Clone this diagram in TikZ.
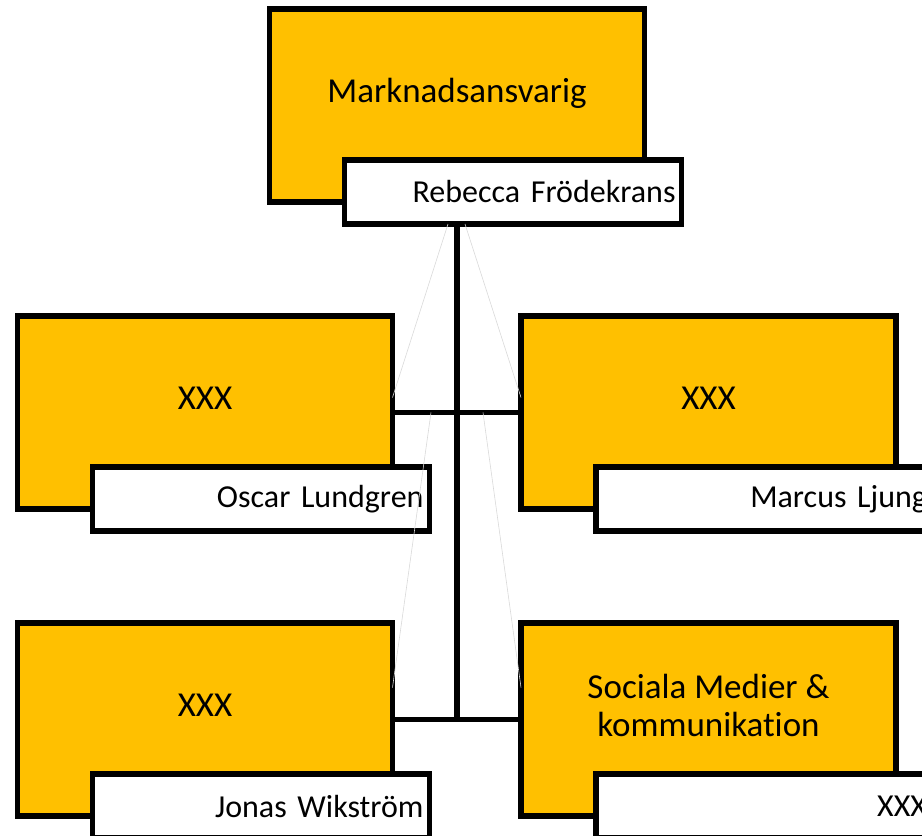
\documentclass[tikz,border=0pt]{standalone}
\usepackage{fontspec}
\setmainfont{Carlito}[Ligatures=NoCommon]
\definecolor{gold}{HTML}{FFC000}

\begin{document}
\begin{tikzpicture}[x=1pt,y=-1pt,
    rolebox/.style={draw=black,line width=5.5pt,fill=gold,minimum width=375pt,minimum height=193pt,inner sep=0pt,outer sep=0pt},
    namebox/.style={draw=black,line width=5.5pt,fill=white,minimum height=64pt,text width=325pt,inner xsep=6pt,inner ysep=0pt,outer sep=0pt,align=right,font=\fontsize{32}{38}\selectfont},
    roletext/.style={align=center,font=\fontsize{35}{38}\selectfont},
    link/.style={line width=5.5pt},
    ghost/.style={black!15,line width=0.6pt}]
        \def \dx {75pt}
        \def \dy {-151pt}

        \useasboundingbox (0,0) rectangle (922,836);
        \clip (0,0) rectangle (922,836);

        % top
        \node[rolebox] (chief) at (457,105.5) {};
        \node[namebox,anchor=north west] (chiefname) at ([xshift=\dx,yshift=\dy]chief.north west) {Rebecca Frödekrans};
        \node[roletext] (chieftext) at ([yshift=12pt]chief.center) {Marknadsansvarig};

        % middle row
        \node[rolebox] (midL) at (205,412.5) {};
        \node[namebox,anchor=north west] (midLname) at ([xshift=\dx,yshift=\dy]midL.north west) {Oscar Lundgren};
        \node[roletext] (midLtext) at ([yshift=14pt]midL.center) {XXX};

        \node[rolebox] (midR) at (708.5,412.5) {};
        \node[namebox,anchor=north west] (midRname) at ([xshift=\dx,yshift=\dy]midR.north west) {Marcus Ljung};
        \node[roletext] (midRtext) at ([yshift=14pt]midR.center) {XXX};

        % bottom row
        \node[rolebox] (lowL) at (205,719.5) {};
        \node[namebox,anchor=north west] (lowLname) at ([xshift=\dx,yshift=\dy]lowL.north west) {Jonas Wikström};
        \node[roletext] (lowLtext) at ([yshift=14pt]lowL.center) {XXX};

        \node[rolebox] (lowR) at (708.5,719.5) {};
        \node[namebox,anchor=north west] (lowRname) at ([xshift=\dx,yshift=\dy]lowR.north west) {XXX};
        \node[roletext] (lowRtext) at ([yshift=14pt]lowR.center) {Sociala Medier \&\\kommunikation};

        % connectors
        \coordinate (drop) at (chief.south |- chiefname.south);
        \coordinate (midjoin) at (chief.south |- midL.east);
        \coordinate (lowjoin) at (chief.south |- lowL.east);
        \draw[link] (drop) -- (lowjoin);
        \draw[link] (midL.east) -- (midR.west);
        \draw[link] (lowL.east) -- (lowR.west);

        \draw[ghost] ([xshift=-9pt]drop) -- ([yshift=15pt]midL.east);
        \draw[ghost] ([xshift=8pt]drop) -- ([yshift=15pt]midR.west);
        \draw[ghost] ([xshift=-26pt]midjoin) -- ([yshift=32pt]lowL.east);
        \draw[ghost] ([xshift=26pt]midjoin) -- ([yshift=32pt]lowR.west);
    \end{tikzpicture}
\end{document}
